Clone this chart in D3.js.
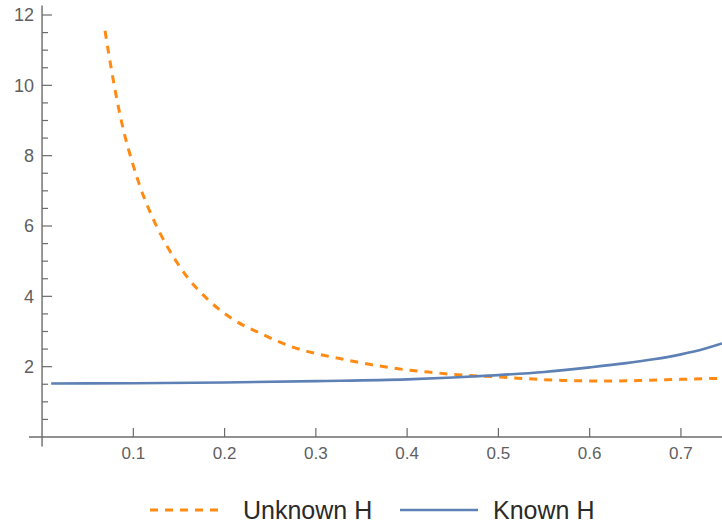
<!DOCTYPE html>
<html>
<head>
<meta charset="utf-8">
<script src="https://cdn.jsdelivr.net/npm/d3@7"></script>
<style>
  body { margin: 0; background: #fff; }
  svg { display: block; font-family: "Liberation Sans", Arial, sans-serif; }
</style>
</head>
<body>
<svg width="722" height="524"></svg>
<script>
// Unknown H (dashed orange)
const UNKNOWN_X = [0.069, 0.076, 0.082, 0.089, 0.099, 0.107, 0.12, 0.138, 0.159, 0.182, 0.209, 0.239, 0.272, 0.304, 0.33, 0.36, 0.39, 0.43, 0.46, 0.5, 0.53, 0.57, 0.62, 0.66, 0.7, 0.745];
const UNKNOWN_Y = [11.55, 10.45, 9.6, 8.75, 7.8, 7.15, 6.3, 5.38, 4.55, 3.9, 3.35, 2.95, 2.58, 2.35, 2.21, 2.06, 1.94, 1.83, 1.76, 1.71, 1.66, 1.61, 1.59, 1.61, 1.64, 1.67];

// Known H (solid blue)
const KNOWN_X = [0.01, 0.1, 0.2, 0.3, 0.4, 0.45, 0.5, 0.55, 0.6, 0.64, 0.67, 0.7, 0.725, 0.745];
const KNOWN_Y = [1.52, 1.53, 1.55, 1.59, 1.64, 1.69, 1.76, 1.85, 1.98, 2.1, 2.21, 2.35, 2.5, 2.66];

const X_TICKS = [0.1, 0.2, 0.3, 0.4, 0.5, 0.6, 0.7];
const Y_TICKS = [2, 4, 6, 8, 10, 12];
const Y_MINOR = d3.range(0.5, 12.01, 0.5).filter(v => Y_TICKS.indexOf(v) == -1);

const SERIES = [
    { name: 'Unknown H', xs: UNKNOWN_X, ys: UNKNOWN_Y, color: '#ff8a14', dash: '8,7', width: 3 },
    { name: 'Known H', xs: KNOWN_X, ys: KNOWN_Y, color: '#5e81b5', dash: null, width: 2.6 },
];

const AXIS_COLOR = '#6b6b6b';
const LABEL_COLOR = '#5f5f5f';

const x = d3.scaleLinear().domain([-0.0143, 0.745]).range([29, 722]);
const y = d3.scaleLinear().domain([0, 12]).range([437, 15]);

const svg = d3.select('svg');

// curves
const line = d3.line()
    .x(d => x(d[0]))
    .y(d => y(d[1]))
    .curve(d3.curveMonotoneX);

SERIES.forEach(s => {
    const pts = s.xs.map((v, i) => [v, s.ys[i]]);
    svg.append('path')
        .attr('d', line(pts))
        .attr('fill', 'none')
        .attr('stroke', s.color)
        .attr('stroke-width', s.width)
        .attr('stroke-dasharray', s.dash);
});

// x axis
const xAxis = svg.append('g');
xAxis.append('line')
    .attr('x1', x.range()[0]).attr('x2', x.range()[1])
    .attr('y1', y(0)).attr('y2', y(0))
    .attr('stroke', AXIS_COLOR).attr('stroke-width', 1.4);
xAxis.selectAll('.xtick')
    .data(X_TICKS)
    .enter()
    .append('line')
    .attr('x1', d => x(d)).attr('x2', d => x(d))
    .attr('y1', y(0)).attr('y2', y(0) - 9)
    .attr('stroke', AXIS_COLOR).attr('stroke-width', 1.2);
xAxis.selectAll('.xlabel')
    .data(X_TICKS)
    .enter()
    .append('text')
    .attr('x', d => x(d))
    .attr('y', y(0) + 22)
    .attr('text-anchor', 'middle')
    .attr('font-size', 17)
    .attr('fill', LABEL_COLOR)
    .text(d => d3.format('.1f')(d));

// y axis
const yAxis = svg.append('g');
yAxis.append('line')
    .attr('x1', x(0)).attr('x2', x(0))
    .attr('y1', y(-0.27)).attr('y2', y(12.27))
    .attr('stroke', AXIS_COLOR).attr('stroke-width', 1.4);
yAxis.selectAll('.ytick')
    .data(Y_TICKS)
    .enter()
    .append('line')
    .attr('x1', x(0)).attr('x2', x(0) + 10)
    .attr('y1', d => y(d)).attr('y2', d => y(d))
    .attr('stroke', AXIS_COLOR).attr('stroke-width', 1.2);
yAxis.selectAll('.yminor')
    .data(Y_MINOR)
    .enter()
    .append('line')
    .attr('x1', x(0)).attr('x2', x(0) + 6)
    .attr('y1', d => y(d)).attr('y2', d => y(d))
    .attr('stroke', AXIS_COLOR).attr('stroke-width', 1.2);
yAxis.selectAll('.ylabel')
    .data(Y_TICKS)
    .enter()
    .append('text')
    .attr('x', x(0) - 8)
    .attr('y', d => y(d))
    .attr('dy', '0.36em')
    .attr('text-anchor', 'end')
    .attr('font-size', 18)
    .attr('fill', LABEL_COLOR)
    .text(d => d);

// legend
const legend = svg.append('g').attr('transform', 'translate(0, 510)');
const legendPos = [150, 400];
SERIES.forEach((s, i) => {
    const g = legend.append('g').attr('transform', `translate(${legendPos[i]}, 0)`);
    g.append('line')
        .attr('x1', 0).attr('x2', i == 0 ? 75 : 78)
        .attr('y1', 0).attr('y2', 0)
        .attr('stroke', s.color)
        .attr('stroke-width', s.width)
        .attr('stroke-dasharray', s.dash);
    g.append('text')
        .attr('x', 93)
        .attr('y', 0)
        .attr('dy', '0.35em')
        .attr('font-size', 25)
        .attr('fill', '#2a2a2a')
        .text(s.name);
});
</script>
</body>
</html>
